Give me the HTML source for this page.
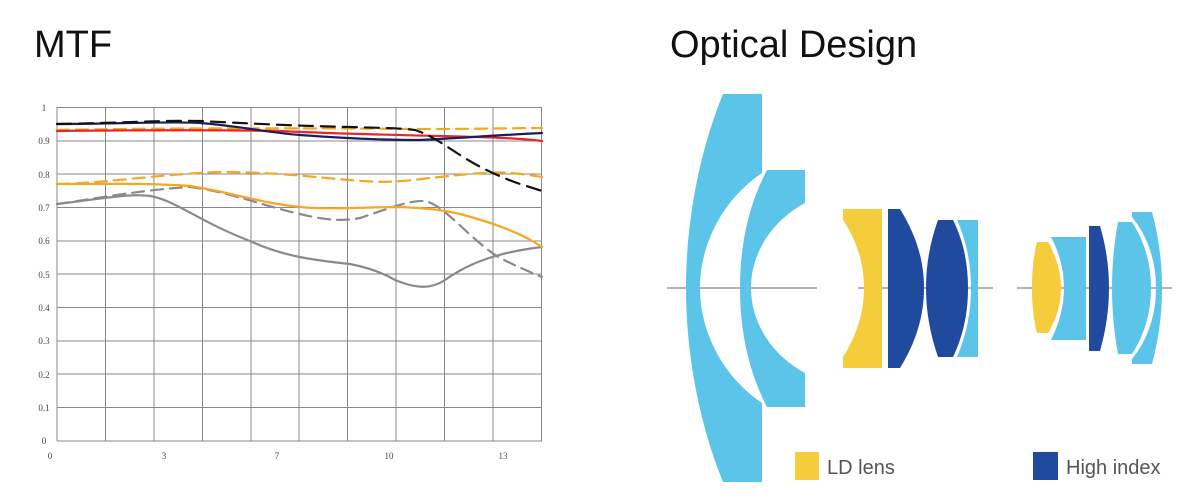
<!DOCTYPE html>
<html><head><meta charset="utf-8"><style>
html,body{margin:0;padding:0;background:#fff;width:1200px;height:504px;overflow:hidden}
svg{display:block}
</style></head><body>
<svg width="1200" height="504" viewBox="0 0 1200 504" xmlns="http://www.w3.org/2000/svg">
<text x="34" y="57" font-family="Liberation Sans, sans-serif" font-size="38" fill="#111">MTF</text>
<text x="670" y="57" font-family="Liberation Sans, sans-serif" font-size="38" fill="#111">Optical Design</text>

<g stroke="#888" stroke-width="1">
<line x1="57" y1="107.5" x2="542" y2="107.5"/><line x1="57" y1="141" x2="542" y2="141"/>
<line x1="57" y1="174" x2="542" y2="174"/><line x1="57" y1="207.5" x2="542" y2="207.5"/>
<line x1="57" y1="241" x2="542" y2="241"/><line x1="57" y1="274" x2="542" y2="274"/>
<line x1="57" y1="307.5" x2="542" y2="307.5"/><line x1="57" y1="341" x2="542" y2="341"/>
<line x1="57" y1="374" x2="542" y2="374"/><line x1="57" y1="407.5" x2="542" y2="407.5"/>
<line x1="57" y1="441" x2="542" y2="441"/>
<line x1="57" y1="107" x2="57" y2="441"/><line x1="105.5" y1="107" x2="105.5" y2="441"/>
<line x1="154" y1="107" x2="154" y2="441"/><line x1="202.5" y1="107" x2="202.5" y2="441"/>
<line x1="251" y1="107" x2="251" y2="441"/><line x1="299" y1="107" x2="299" y2="441"/>
<line x1="347.5" y1="107" x2="347.5" y2="441"/><line x1="396" y1="107" x2="396" y2="441"/>
<line x1="444.5" y1="107" x2="444.5" y2="441"/><line x1="493" y1="107" x2="493" y2="441"/>
<line x1="541.5" y1="107" x2="541.5" y2="441"/>
</g>
<g font-family="Liberation Serif, serif" font-size="9" fill="#444" text-anchor="middle">
<text x="44" y="111">1</text><text x="44" y="144">0.9</text><text x="44" y="178">0.8</text>
<text x="44" y="211">0.7</text><text x="44" y="244">0.6</text><text x="44" y="278">0.5</text>
<text x="44" y="311">0.4</text><text x="44" y="344">0.3</text><text x="44" y="378">0.2</text>
<text x="44" y="411">0.1</text><text x="44" y="444">0</text>
<text x="50" y="459">0</text><text x="164" y="459">3</text><text x="277" y="459">7</text>
<text x="389" y="459">10</text><text x="503" y="459">13</text>
</g>

<g fill="none" stroke-width="2.2" stroke-linecap="round">
<path d="M57,204 C100,199 130,193 150,196 C175,200 200,222 250,241 C280,255 310,260 350,264 C370,268 385,274 395,280 C415,288 430,290 445,280 C470,262 500,252 542,247" stroke="#8a8a8a"/>
<path d="M57,204 C100,198 140,190 190,187 C230,192 260,205 300,214 C320,219 340,222 360,218 C390,208 410,200 425,201 C445,205 470,240 500,258 C520,268 530,272 542,277" stroke="#8a8a8a" stroke-dasharray="12,7"/>
<path d="M57,184 C110,184 150,183 190,186 C230,192 260,203 300,207 C330,210 370,207 400,207 C420,208 440,209 460,214 C490,222 520,232 542,247" stroke="#f5a623"/>
<path d="M57,184 C110,183 160,174 220,172 C280,172 320,178 350,180 C380,183 400,182 430,178 C460,175 490,171 510,173 C525,174 535,176 542,177" stroke="#f5a623" stroke-dasharray="12,7"/>
<path d="M57,130 C150,128 300,128 420,129 C480,129 520,128 542,128" stroke="#f5a623" stroke-dasharray="12,7"/>
<path d="M57,131 C150,130 230,130 280,131 C340,134 400,135 440,136 C480,137 520,138 542,141" stroke="#e8262a"/>
<path d="M57,124 C120,124 170,121 200,123 C240,126 270,133 300,135 C340,138 380,140 420,140 C460,138 500,135 542,133" stroke="#1a1f5c"/>
<path d="M57,124 C120,123 170,120 200,121 C260,124 300,126 350,127 C380,128 400,128 415,130 C430,135 440,142 460,155 C480,168 500,177 520,184 C530,187 536,189 542,191" stroke="#111" stroke-dasharray="14,8"/>
</g>

<g stroke="#999" stroke-width="1.5">
<line x1="667" y1="288" x2="817" y2="288"/>
<line x1="858" y1="288" x2="993" y2="288"/>
<line x1="1017" y1="288" x2="1172" y2="288"/>
</g>

<!-- Lens group 1 -->
<path d="M723,94 L762,94 L762,173 C722,200 700,245 700,288 C700,331 722,376 762,403 L762,482 L723,482 C700,426 686,356 686,288 C686,220 700,150 723,94 Z" fill="#5bc4e8"/>
<path d="M767,170 L805,170 L805,203 C770,222 751,255 751,288 C751,321 770,354 805,373 L805,407 L767,407 C748,370 740,330 740,288 C740,246 748,206 767,170 Z" fill="#5bc4e8"/>

<!-- Lens group 2 -->
<path d="M843,209 L882,209 L882,368 L843,368 L843,357 C857,335 864,312 864,288 C864,264 857,241 843,220 Z" fill="#f4cc3c"/>
<path d="M888,209 L900,209 C916,235 924,260 924,288 C924,316 916,342 900,368 L888,368 Z" fill="#1f4a9e"/>
<path d="M938,220 L953,220 C964,242 968,265 968,288 C968,311 964,334 953,357 L938,357 C930,334 926,311 926,288 C926,265 930,242 938,220 Z" fill="#1f4a9e"/>
<path d="M957,220 L978,220 L978,357 L957,357 C967,334 971,311 971,288 C971,265 967,242 957,220 Z" fill="#5bc4e8"/>

<!-- Lens group 3 -->
<path d="M1037,242 L1048,242 C1057,258 1061,273 1061,288 C1061,303 1057,318 1048,333 L1037,333 C1033,318 1032,303 1032,288 C1032,273 1033,258 1037,242 Z" fill="#f4cc3c"/>
<path d="M1051,237 L1086,237 L1086,340 L1051,340 C1060,322 1064,305 1064,288 C1064,271 1060,254 1051,237 Z" fill="#5bc4e8"/>
<path d="M1089,226 L1100,226 C1106,246 1109,267 1109,288 C1109,309 1106,330 1100,351 L1089,351 Z" fill="#1f4a9e"/>
<path d="M1118,222 L1132,222 C1145,242 1151,265 1151,288 C1151,311 1145,334 1132,354 L1118,354 C1114,332 1112,310 1112,288 C1112,266 1114,244 1118,222 Z" fill="#5bc4e8"/>
<path d="M1132,212 L1152,212 C1159,238 1162,263 1162,288 C1162,313 1159,338 1152,364 L1132,364 L1132,359 C1149,338 1156,313 1156,288 C1156,263 1149,238 1132,217 Z" fill="#5bc4e8"/>

<rect x="795" y="452" width="24" height="28" fill="#f4cc3c"/>
<text x="827" y="474" font-family="Liberation Sans, sans-serif" font-size="20" fill="#555">LD lens</text>
<rect x="1033" y="452" width="25" height="28" fill="#1f4a9e"/>
<text x="1066" y="474" font-family="Liberation Sans, sans-serif" font-size="20" fill="#555">High index</text>
</svg>
</body></html>
